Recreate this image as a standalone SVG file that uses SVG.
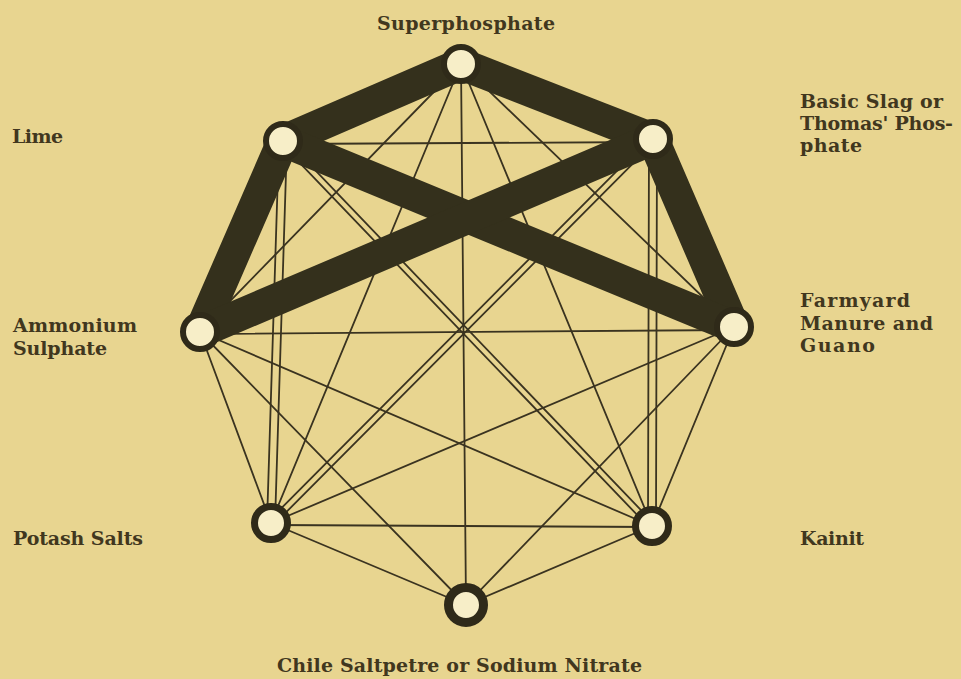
<svg xmlns="http://www.w3.org/2000/svg" width="961" height="679" viewBox="0 0 961 679">
<style>
.thin{stroke:#3a3320;stroke-width:1.8;fill:none;stroke-linecap:round}
.thick{stroke:#34301c;stroke-width:32;stroke-linecap:round;fill:none}
.ring{fill:#f7eec8;stroke:#2f2a19;stroke-width:6}
.lbl{font-family:"DejaVu Serif","Liberation Serif",serif;font-size:19px;font-weight:bold;fill:#41371e}
</style>
<rect width="961" height="679" fill="#e8d590"/>
<g id="connectors">
  <line class="thin" x1="283" y1="144" x2="653" y2="142"/>
  <line class="thin" x1="461" y1="64" x2="466" y2="605"/>
  <line class="thin" x1="461" y1="64" x2="200" y2="332"/>
  <line class="thin" x1="461" y1="64" x2="271" y2="523"/>
  <line class="thin" x1="461" y1="64" x2="734" y2="327"/>
  <line class="thin" x1="461" y1="64" x2="652" y2="526"/>
  <line class="thin" x1="200" y1="334" x2="734" y2="330"/>
  <line class="thin" x1="734" y1="327" x2="652" y2="526"/>
  <line class="thin" x1="734" y1="327" x2="466" y2="605"/>
  <line class="thin" x1="734" y1="327" x2="271" y2="523"/>
  <line class="thin" x1="200" y1="332" x2="652" y2="526"/>
  <line class="thin" x1="200" y1="332" x2="466" y2="605"/>
  <line class="thin" x1="200" y1="332" x2="271" y2="523"/>
  <line class="thin" x1="271" y1="525" x2="652" y2="527"/>
  <line class="thin" x1="271" y1="523" x2="466" y2="605"/>
  <line class="thin" x1="652" y1="526" x2="466" y2="605"/>
  <g id="double-lime-potash">
    <line class="thin" x1="287" y1="141" x2="275" y2="523"/>
    <line class="thin" x1="279" y1="141" x2="267" y2="523"/>
  </g>
  <g id="double-slag-kainit">
    <line class="thin" x1="649" y1="139" x2="648" y2="526"/>
    <line class="thin" x1="657" y1="139" x2="656" y2="526"/>
  </g>
  <g id="double-lime-kainit">
    <line class="thin" x1="285.2" y1="138.9" x2="654.2" y2="523.9"/>
    <line class="thin" x1="280.8" y1="143.1" x2="649.8" y2="528.1"/>
  </g>
  <g id="double-slag-potash">
    <line class="thin" x1="655.2" y1="141.2" x2="273.2" y2="525.2"/>
    <line class="thin" x1="650.8" y1="136.8" x2="268.8" y2="520.8"/>
  </g>
  <line class="thick" x1="461" y1="64" x2="653" y2="139"/>
  <line class="thick" x1="461" y1="64" x2="283" y2="141"/>
  <line class="thick" x1="283" y1="141" x2="200" y2="332"/>
  <line class="thick" x1="653" y1="139" x2="734" y2="327"/>
  <line class="thick" x1="283" y1="141" x2="734" y2="327"/>
  <line class="thick" x1="653" y1="139" x2="200" y2="332"/>
</g>
<g id="node-superphosphate"><circle class="ring" cx="461" cy="64" r="17"/>
  <text class="lbl" x="377" y="30" textLength="178">Superphosphate</text></g>
<g id="node-basic-slag"><circle class="ring" cx="653" cy="139" r="17"/>
  <text class="lbl" x="800" y="108" textLength="143">Basic Slag or</text>
  <text class="lbl" x="800" y="130" textLength="153">Thomas' Phos-</text>
  <text class="lbl" x="800" y="152" textLength="62">phate</text></g>
<g id="node-farmyard"><circle class="ring" cx="734" cy="327" r="17"/>
  <text class="lbl" x="800" y="307" textLength="110">Farmyard</text>
  <text class="lbl" x="800" y="330" textLength="133">Manure and</text>
  <text class="lbl" x="800" y="352" textLength="75">Guano</text></g>
<g id="node-kainit"><circle class="ring" cx="652" cy="526" r="16.5" style="stroke-width:7"/>
  <text class="lbl" x="800" y="545" textLength="64">Kainit</text></g>
<g id="node-chile"><circle class="ring" cx="466" cy="605" r="17.5" style="stroke-width:9"/>
  <text class="lbl" x="277" y="672" textLength="365">Chile Saltpetre or Sodium Nitrate</text></g>
<g id="node-potash"><circle class="ring" cx="271" cy="523" r="16.5" style="stroke-width:7"/>
  <text class="lbl" x="13" y="545" textLength="130">Potash Salts</text></g>
<g id="node-ammonium"><circle class="ring" cx="200" cy="332" r="17"/>
  <text class="lbl" x="13" y="332" textLength="124">Ammonium</text>
  <text class="lbl" x="13" y="355" textLength="94">Sulphate</text></g>
<g id="node-lime"><circle class="ring" cx="283" cy="141" r="17"/>
  <text class="lbl" x="12" y="143" textLength="51">Lime</text></g>
</svg>
